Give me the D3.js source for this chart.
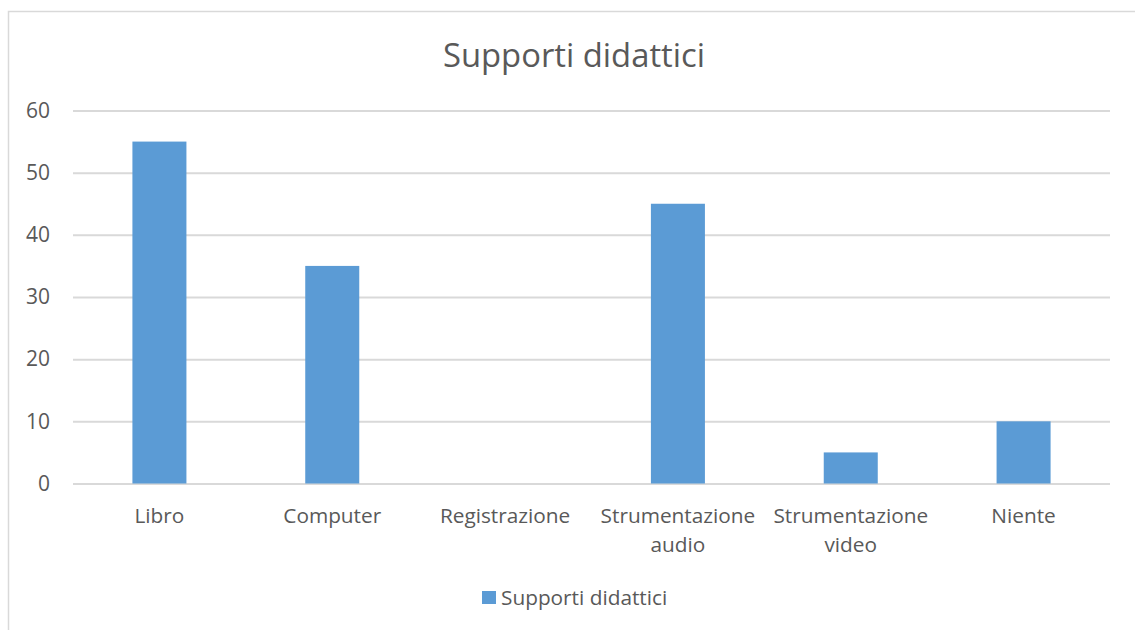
<!DOCTYPE html>
<html><head><meta charset="utf-8">
<script src="https://cdn.jsdelivr.net/npm/d3@7"></script>
<style>body{margin:0;background:#fff;overflow:hidden}svg{display:block}</style>
</head><body>
<svg id="c" width="1135" height="630"></svg>
<script>
const categories = [["Libro"],["Computer"],["Registrazione"],["Strumentazione","audio"],["Strumentazione","video"],["Niente"]];
const values = [55, 35, 0, 45, 5, 10];
const yTicks = [0, 10, 20, 30, 40, 50, 60];
const title = "Supporti didattici";
const seriesName = "Supporti didattici";

const svg = d3.select("#c");
const font = "'Open Sans', sans-serif";
const textCol = "#595959", gridCol = "#d9d9d9", barCol = "#5b9bd5";
const m = {l:73, r:1110, t:110.5, b:483.5};

svg.append("rect").attr("x",8.5).attr("y",11.5).attr("width",1140).attr("height",700)
  .attr("fill","#fff").attr("stroke","#d9d9d9").attr("stroke-width",1.5);

const x = d3.scaleBand().domain(categories.map((d,i)=>i)).range([m.l,m.r]).paddingInner(0.6875).paddingOuter(0.34375);
const y = d3.scaleLinear().domain([0,60]).range([m.b,m.t]);

const yAxis = svg.append("g").attr("transform",`translate(${m.l},0)`)
  .call(d3.axisLeft(y).tickValues(yTicks).tickSize(-(m.r-m.l)).tickPadding(23));
yAxis.select(".domain").remove();
yAxis.selectAll("line").attr("stroke",gridCol).attr("stroke-width",2);
yAxis.selectAll("text").attr("fill",textCol).style("font-family",font).style("font-size","21px");

svg.append("g").selectAll("rect").data(values).join("rect")
  .attr("x",(d,i)=>x(i)).attr("width",x.bandwidth())
  .attr("y",d=>y(d)).attr("height",d=>y(0)-y(d)).attr("fill",barCol);

const xl = svg.append("g").selectAll("text").data(categories).join("text")
  .attr("x",(d,i)=>x(i)+x.bandwidth()/2).attr("y",523)
  .attr("text-anchor","middle").attr("fill",textCol)
  .style("font-family",font).style("font-size","20.8px");
xl.selectAll("tspan").data(d=>d).join("tspan")
  .attr("x",function(){return this.parentNode.getAttribute("x");})
  .attr("dy",(d,i)=>i?29:0).text(d=>d);

svg.append("text").attr("x",574).attr("y",67).attr("text-anchor","middle")
  .attr("fill",textCol).style("font-family",font).style("font-size","32.8px").text(title);

const lg = svg.append("g");
lg.append("rect").attr("x",482).attr("y",591).attr("width",14).attr("height",13).attr("fill",barCol);
lg.append("text").attr("x",501).attr("y",605).attr("fill",textCol)
  .style("font-family",font).style("font-size","20.8px").text(seriesName);
</script>
</body></html>
